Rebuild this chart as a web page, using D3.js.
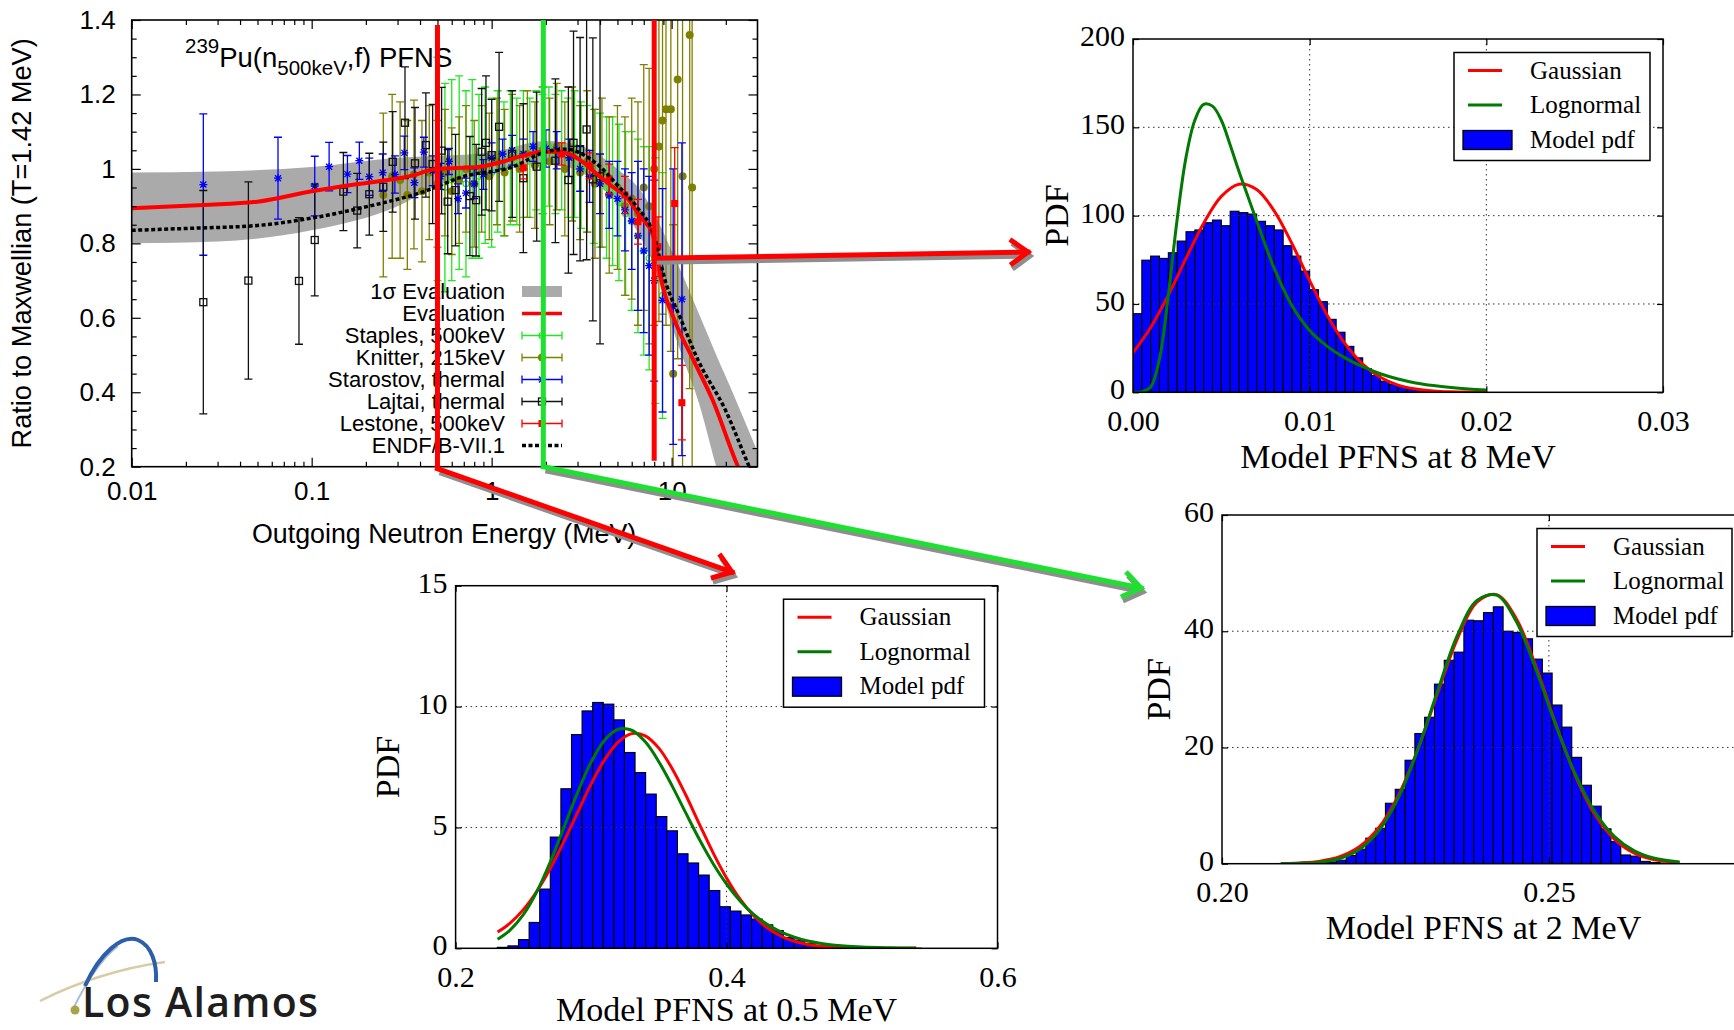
<!DOCTYPE html>
<html>
<head>
<meta charset="utf-8">
<script src="https://cdn.jsdelivr.net/npm/d3@7"></script>
<style>
html,body{margin:0;padding:0;background:#fff;}
svg{display:block;}
</style>
</head>
<body>
<svg id="fig" width="1734" height="1030" xmlns="http://www.w3.org/2000/svg"></svg>
<script>
// ---------------- Ratio-to-Maxwellian panel (energies in MeV) ----------------
const xTickValues = [0.01, 0.1, 1, 10];
const xTickLabels = ["0.01", "0.1", "1", "10"];
const xMinorTicks = [0.02,0.03,0.04,0.05,0.06,0.07,0.08,0.09,0.2,0.3,0.4,0.5,0.6,0.7,0.8,0.9,2,3,4,5,6,7,8,9,20];
const yTickValues = [0.2, 0.4, 0.6, 0.8, 1.0, 1.2, 1.4];
const yTickLabels = ["0.2", "0.4", "0.6", "0.8", "1", "1.2", "1.4"];
const yMinorTicks = [0.25,0.3,0.35,0.45,0.5,0.55,0.65,0.7,0.75,0.85,0.9,0.95,1.05,1.1,1.15,1.25,1.3,1.35];

// 1-sigma evaluation band
const bandE  = [0.01, 0.03, 0.1, 0.3, 0.5, 1, 2, 3, 5, 7, 8, 9, 10, 11.4, 14.2, 17.7, 21.8, 30];
const bandLo = [0.80, 0.805, 0.835, 0.90, 0.955, 0.99, 1.015, 0.995, 0.91, 0.80, 0.74, 0.66, 0.58, 0.50, 0.37, 0.20, 0.05, -0.20];
const bandHi = [0.99, 0.993, 1.005, 1.03, 1.035, 1.045, 1.075, 1.065, 1.00, 0.93, 0.88, 0.83, 0.78, 0.72, 0.61, 0.50, 0.40, 0.24];

// evaluation (red) and ENDF/B-VII.1 (dashed)
const evalE = [0.01,0.025,0.05,0.1,0.166,0.28,0.36,0.48,0.86,1.07,1.43,1.94,2.41,3.1,3.8,4.7,5.6,6.7,7.8,8.3,8.7,10.2,13.2,16.9,23.4,30];
const evalV = [0.894,0.903,0.912,0.94,0.957,0.972,0.982,0.999,1.006,1.015,1.033,1.046,1.046,1.024,0.988,0.952,0.925,0.871,0.827,0.773,0.71,0.603,0.487,0.379,0.2,0.1];
const endfE = [0.01,0.02,0.05,0.1,0.2,0.42,0.69,1.32,2.0,2.6,3.8,5.1,6.4,7.9,9.3,11.1,14.0,19.9,27,30];
const endfV = [0.835,0.84,0.848,0.868,0.898,0.939,0.979,1.006,1.046,1.053,1.015,0.952,0.898,0.827,0.693,0.603,0.487,0.352,0.2,0.15];

// measurements: [energy, ratio, uncertainty]
const staples = [[0.5,1.0,0.3],[0.55,0.95,0.28],[0.6,0.97,0.27],[0.66,0.99,0.26],[0.72,0.96,0.25],[0.78,1.0,0.24],[0.85,0.98,0.22],[0.92,1.01,0.21],[1.0,0.99,0.2],[1.08,1.02,0.19],[1.17,1.0,0.18],[1.27,1.03,0.18],[1.38,1.02,0.17],[1.5,1.04,0.17],[1.63,1.03,0.16],[1.77,1.05,0.16],[1.92,1.04,0.16],[2.08,1.06,0.16],[2.26,1.04,0.16],[2.45,1.05,0.16],[2.66,1.03,0.16],[2.89,1.04,0.17],[3.14,1.01,0.17],[3.4,1.0,0.17],[3.7,0.98,0.18],[4.0,0.97,0.18],[4.35,0.95,0.19],[4.7,0.94,0.2],[5.1,0.91,0.21],[5.55,0.88,0.22],[6.0,0.86,0.24],[6.5,0.82,0.26],[7.0,0.78,0.28],[7.5,0.76,0.3],[8.1,0.70,0.33],[8.9,0.66,0.33]];
const knitter = [[0.25,0.93,0.22],[0.28,0.98,0.22],[0.31,0.97,0.21],[0.34,0.93,0.2],[0.37,0.985,0.2],[0.41,0.94,0.19],[0.45,0.99,0.18],[0.5,0.96,0.17],[0.55,0.99,0.17],[0.6,0.94,0.17],[0.66,0.97,0.17],[0.72,1.0,0.17],[0.8,0.96,0.17],[0.88,1.0,0.17],[0.97,0.98,0.17],[1.07,1.02,0.17],[1.18,0.99,0.17],[1.3,1.03,0.17],[1.43,1.0,0.17],[1.58,1.04,0.17],[1.74,1.01,0.17],[1.92,1.05,0.17],[2.1,1.02,0.17],[2.3,1.06,0.17],[2.55,1.0,0.18],[2.8,1.04,0.18],[3.1,0.99,0.18],[3.4,1.02,0.19],[3.75,0.96,0.2],[4.1,0.99,0.2],[4.5,0.93,0.21],[5.0,0.95,0.22],[5.5,0.9,0.24],[6.0,0.92,0.27],[6.5,0.88,0.3],[7.0,0.95,0.33],[7.5,0.9,0.37],[8.0,1.0,0.42],[8.5,1.06,0.47],[8.9,1.13,0.52],[9.3,1.16,0.58],[9.9,1.16,0.65],[10.2,0.45,0.4],[10.8,1.24,0.75],[11.5,0.98,0.85],[12.6,1.36,0.95],[13.0,0.95,0.95]];
const starostov = [[0.025,0.958,0.19],[0.065,0.975,0.11],[0.104,0.954,0.08],[0.125,1.006,0.065],[0.158,0.986,0.05],[0.184,1.022,0.05],[0.209,0.979,0.05],[0.248,0.99,0.05],[0.29,0.985,0.05],[0.327,1.043,0.045],[0.372,0.963,0.04],[0.42,1.045,0.04],[0.47,0.995,0.04],[0.52,0.98,0.035],[0.58,1.02,0.035],[0.65,0.92,0.04],[0.72,0.935,0.04],[0.8,0.96,0.04],[0.9,0.985,0.04],[1.0,1.03,0.04],[1.15,1.04,0.04],[1.3,1.05,0.04],[1.5,1.04,0.04],[1.7,1.06,0.04],[2.0,1.055,0.05],[2.3,1.05,0.05],[2.7,1.03,0.05],[3.1,1.0,0.06],[3.5,0.98,0.07],[4.0,0.96,0.08],[4.5,0.93,0.09],[5.0,0.92,0.1],[5.5,0.89,0.11],[6.0,0.86,0.13],[6.5,0.82,0.2],[7.0,0.78,0.22],[7.5,0.74,0.24],[8.0,0.70,0.27],[8.9,0.647,0.3],[10.2,0.63,0.37],[11.4,0.65,0.42]];
const lajtai = [[0.025,0.642,0.30],[0.0445,0.70,0.265],[0.085,0.699,0.17],[0.104,0.809,0.15],[0.150,0.939,0.105],[0.179,0.888,0.1],[0.209,0.932,0.11],[0.25,0.952,0.12],[0.282,1.019,0.135],[0.33,1.124,0.15],[0.375,1.015,0.15],[0.431,1.064,0.14],[0.47,1.013,0.16],[0.527,1.049,0.17],[0.57,0.912,0.14],[0.63,0.943,0.15],[0.757,0.927,0.16],[0.82,0.916,0.15],[0.88,1.046,0.17],[0.93,1.07,0.18],[1.0,1.037,0.15],[1.1,1.113,0.2],[1.3,1.04,0.17],[1.5,0.975,0.2],[1.78,1.006,0.2],[2.26,1.022,0.22],[2.67,0.97,0.25],[2.85,1.07,0.3],[3.1,1.053,0.3],[3.37,1.106,0.35],[3.65,0.972,0.38],[4.0,0.98,0.45]];
const lestone = [[1.5,1.003,0.03],[2.45,1.04,0.03],[3.5,1.008,0.035],[4.5,0.973,0.04],[5.5,0.93,0.05],[6.5,0.858,0.06],[8.4,0.791,0.08],[10.4,0.907,0.15],[11.4,0.372,0.1]];

const legendLabels = ["1\u03c3 Evaluation","Evaluation","Staples, 500keV","Knitter, 215keV","Starostov, thermal","Lajtai, thermal","Lestone, 500keV","ENDF/B-VII.1"];

// ---------------- Sampled model PFNS distributions ----------------
// 8 MeV
const pdf8Start = 0, pdf8Width = 0.0005;
const pdf8Counts = [44.5,74.8,77.1,75.8,79.0,85.6,90.9,91.9,96.0,97.5,94.3,102.5,101.7,100.9,96.8,94.3,91.9,83.0,77.1,68.6,58.1,51.3,41.3,34.0,26.0,19.5,13.3,9.5,6.3,4.4,3.0,2.0,1.2,0.7,0.4,0.2];
const gauss8X = [0,0.001,0.002,0.003,0.004,0.005,0.006,0.007,0.008,0.009,0.010,0.011,0.012,0.013,0.014,0.015,0.016,0.017,0.018,0.019,0.020];
const gauss8Y = [22.4,36.7,55.0,75.8,95.7,110.9,117.8,114.8,102.6,84.1,63.2,43.5,27.5,16.0,8.5,4.1,1.9,0.8,0.3,0.1,0.0];
const logn8X = [0,0.0005,0.001,0.0015,0.002,0.0025,0.003,0.0035,0.004,0.0045,0.005,0.0055,0.006,0.0065,0.007,0.008,0.009,0.010,0.011,0.012,0.013,0.014,0.015,0.016,0.017,0.018,0.019,0.020];
const logn8Y = [0,0.3,3,19,55,98,133,154,163,162,154,140,125,111,97,70,49,35,26,19.5,14.5,10.5,7.5,5.3,3.8,2.7,1.9,1.3];

// 0.5 MeV
const pdf05Start = 0.2308, pdf05Width = 0.00782;
const pdf05Counts = [0.04,0.1,0.36,1.07,2.45,4.6,6.6,8.84,9.82,10.17,10.1,9.45,8.1,7.27,6.38,5.45,4.86,3.91,3.53,3.03,2.39,1.72,1.54,1.38,1.21,0.97,0.73,0.44,0.34,0.2,0.1,0.05,0.03,0.02,0.01,0.01,0.005,0.005,0,0.003];
const fit05X = [0.231,0.24,0.25,0.26,0.27,0.28,0.29,0.30,0.31,0.32,0.33,0.34,0.35,0.36,0.37,0.38,0.39,0.40,0.41,0.42,0.43,0.44,0.45,0.46,0.47,0.48,0.50,0.52,0.54];
const gauss05Y = [0.67,1.03,1.60,2.36,3.31,4.42,5.61,6.79,7.80,8.53,8.88,8.79,8.28,7.42,6.33,5.13,3.96,2.91,2.03,1.35,0.85,0.51,0.29,0.16,0.08,0.04,0.01,0.0,0.0];
const logn05Y = [0.37,0.74,1.39,2.35,3.59,5.01,6.44,7.70,8.61,9.06,9.02,8.54,7.72,6.70,5.59,4.50,3.51,2.66,1.96,1.40,0.99,0.68,0.46,0.30,0.20,0.13,0.05,0.02,0.01];

// 2 MeV
const pdf2Start = 0.2085, pdf2Width = 0.0015;
const pdf2Counts = [0.03,0.05,0.08,0.12,0.2,0.3,0.6,1.4,2.5,4.4,6.1,10.4,12.8,17.8,22.4,25.2,30.9,35.0,36.4,41.9,41.8,43.2,44.2,40.0,39.8,38.7,35.2,32.8,27.3,23.5,18.3,13.5,9.9,6.0,3.8,1.5,1.3,0.4,0.2,0.1,0.05];
const fit2X = [0.209,0.212,0.215,0.218,0.221,0.224,0.227,0.230,0.233,0.236,0.239,0.242,0.245,0.248,0.251,0.254,0.257,0.260,0.263,0.266,0.270];
const gauss2Y = [0.04,0.14,0.44,1.20,2.91,6.23,11.8,19.8,29.4,38.7,45.0,46.3,42.2,34.0,24.2,15.3,8.54,4.22,1.84,0.71,0.17];
const logn2Y = [0.02,0.07,0.27,0.89,2.43,5.68,11.4,19.8,29.8,39.3,45.3,46.2,41.7,33.5,24.0,15.5,8.97,4.70,2.24,0.97,0.28];

const fitLegend = ["Gaussian", "Lognormal", "Model pdf"];

// ---------------- drawing ----------------
const svg = d3.select("#fig");
const SANS = "'Liberation Sans', Arial, Helvetica, sans-serif";
const SERIF = "'Liberation Serif', 'Times New Roman', serif";

function styleAxis(a, font, size) {
  a.select(".domain").remove();
  a.attr("font-family", font).attr("font-size", size);
  a.selectAll("line").attr("stroke", "#000").attr("stroke-width", 1.2);
  a.selectAll("text").attr("fill", "#000");
  return a;
}

// ===== main ratio panel =====
const M = {l: 131.7, r: 757.5, t: 20, b: 466.7};
const x = d3.scaleLog().domain([0.01, 30]).range([M.l, M.r]);
const y = d3.scaleLinear().domain([0.2, 1.4]).range([M.b, M.t]);
const main = svg.append("g");
main.append("clipPath").attr("id", "clipMain").append("rect")
  .attr("x", M.l).attr("y", M.t).attr("width", M.r - M.l).attr("height", M.b - M.t);
const plot = main.append("g").attr("clip-path", "url(#clipMain)");

plot.append("path")
  .datum(d3.zip(bandE, bandLo, bandHi))
  .attr("d", d3.area().x(d => x(d[0])).y0(d => y(d[1])).y1(d => y(d[2])).curve(d3.curveMonotoneX))
  .attr("fill", "#aaaaaa");

function drawMarker(g, type, cx, cy, color) {
  if (type === "circleOpen") {
    g.append("circle").attr("cx", cx).attr("cy", cy).attr("r", 3).attr("fill", "none").attr("stroke", color).attr("stroke-width", 1.2);
  } else if (type === "circleFilled") {
    g.append("circle").attr("cx", cx).attr("cy", cy).attr("r", 4).attr("fill", color);
  } else if (type === "star") {
    const s = 4;
    g.append("path").attr("d", `M${cx-s},${cy}H${cx+s}M${cx},${cy-s}V${cy+s}M${cx-s*0.75},${cy-s*0.75}L${cx+s*0.75},${cy+s*0.75}M${cx-s*0.75},${cy+s*0.75}L${cx+s*0.75},${cy-s*0.75}`)
      .attr("stroke", color).attr("stroke-width", 1.3).attr("fill", "none");
  } else if (type === "squareOpen") {
    g.append("rect").attr("x", cx - 3.5).attr("y", cy - 3.5).attr("width", 7).attr("height", 7).attr("fill", "none").attr("stroke", color).attr("stroke-width", 1.3);
  } else if (type === "squareFilled") {
    g.append("rect").attr("x", cx - 3.5).attr("y", cy - 3.5).attr("width", 7).attr("height", 7).attr("fill", color);
  }
}

function errorSeries(data, color, marker) {
  const g = plot.append("g");
  const rows = data.map(([e, v, u]) => ({e, v, u}));
  g.selectAll("path.eb").data(rows).join("path")
    .attr("d", d => {
      const cx = x(d.e), y0 = y(d.v - d.u), y1 = y(d.v + d.u);
      return `M${cx},${y0}V${y1}M${cx-4},${y0}H${cx+4}M${cx-4},${y1}H${cx+4}`;
    })
    .attr("stroke", color).attr("stroke-width", 1.3).attr("fill", "none");
  rows.forEach(d => drawMarker(g, marker, x(d.e), y(d.v), color));
}

const series = [
  {data: staples, color: "#1ee81e", marker: "circleOpen"},
  {data: knitter, color: "#808000", marker: "circleFilled"},
  {data: starostov, color: "#0000ff", marker: "star"},
  {data: lajtai, color: "#111111", marker: "squareOpen"},
  {data: lestone, color: "#ff0000", marker: "squareFilled"}
];
series.forEach(s => errorSeries(s.data, s.color, s.marker));

plot.append("path").datum(d3.zip(evalE, evalV))
  .attr("d", d3.line().x(d => x(d[0])).y(d => y(d[1])).curve(d3.curveMonotoneX))
  .attr("fill", "none").attr("stroke", "#ff0000").attr("stroke-width", 4);
plot.append("path").datum(d3.zip(endfE, endfV))
  .attr("d", d3.line().x(d => x(d[0])).y(d => y(d[1])).curve(d3.curveMonotoneX))
  .attr("fill", "none").attr("stroke", "#000").attr("stroke-width", 3.5).attr("stroke-dasharray", "4,2.5");

// frame and ticks
main.append("rect").attr("x", M.l).attr("y", M.t).attr("width", M.r - M.l).attr("height", M.b - M.t)
  .attr("fill", "none").attr("stroke", "#000").attr("stroke-width", 1.6);
styleAxis(main.append("g").attr("transform", `translate(0,${M.b})`)
  .call(d3.axisBottom(x).tickValues(xTickValues).tickSize(-9).tickPadding(15).tickFormat(d => xTickLabels[xTickValues.indexOf(d)])), SANS, 26);
styleAxis(main.append("g").attr("transform", `translate(0,${M.b})`)
  .call(d3.axisBottom(x).tickValues(xMinorTicks).tickSize(-5).tickFormat("")), SANS, 26);
styleAxis(main.append("g").attr("transform", `translate(0,${M.t})`)
  .call(d3.axisTop(x).tickValues(xTickValues).tickSize(-9).tickFormat("")), SANS, 26);
styleAxis(main.append("g").attr("transform", `translate(0,${M.t})`)
  .call(d3.axisTop(x).tickValues(xMinorTicks).tickSize(-5).tickFormat("")), SANS, 26);
styleAxis(main.append("g").attr("transform", `translate(${M.l},0)`)
  .call(d3.axisLeft(y).tickValues(yTickValues).tickSize(-9).tickPadding(16).tickFormat(d => yTickLabels[yTickValues.indexOf(d)])), SANS, 26);
styleAxis(main.append("g").attr("transform", `translate(${M.l},0)`)
  .call(d3.axisLeft(y).tickValues(yMinorTicks).tickSize(-5).tickFormat("")), SANS, 26);
styleAxis(main.append("g").attr("transform", `translate(${M.r},0)`)
  .call(d3.axisRight(y).tickValues(yTickValues).tickSize(-9).tickFormat("")), SANS, 26);
styleAxis(main.append("g").attr("transform", `translate(${M.r},0)`)
  .call(d3.axisRight(y).tickValues(yMinorTicks).tickSize(-5).tickFormat("")), SANS, 26);

main.append("text").attr("x", (M.l + M.r) / 2 - 0.5).attr("y", 543)
  .attr("text-anchor", "middle").attr("font-family", SANS).attr("font-size", 26.8)
  .text("Outgoing Neutron Energy (MeV)");
main.append("text").attr("transform", `translate(31,${(M.t + M.b) / 2})rotate(-90)`)
  .attr("text-anchor", "middle").attr("font-family", SANS).attr("font-size", 27.2)
  .text("Ratio to Maxwellian (T=1.42 MeV)");

const title = main.append("text").attr("x", 185).attr("y", 67).attr("font-family", SANS).attr("font-size", 27.5);
title.append("tspan").attr("font-size", 20.5).attr("dy", -14).text("239");
title.append("tspan").attr("dy", 14).text("Pu(n");
title.append("tspan").attr("font-size", 20.5).attr("dy", 8).text("500keV");
title.append("tspan").attr("dy", -8).text(",f) PFNS");

// key
const key = main.append("g");
const keyY0 = 291.5, keyDy = 22, keyTextX = 505, keyS0 = 522, keyS1 = 562;
legendLabels.forEach((lab, i) => {
  const ky = keyY0 + i * keyDy;
  key.append("text").attr("x", keyTextX).attr("y", ky).attr("dy", "0.35em")
    .attr("text-anchor", "end").attr("font-family", SANS).attr("font-size", 22).text(lab);
  if (i === 0) {
    key.append("rect").attr("x", keyS0).attr("y", ky - 5.5).attr("width", keyS1 - keyS0).attr("height", 11).attr("fill", "#aaaaaa");
  } else if (i === 1) {
    key.append("line").attr("x1", keyS0).attr("x2", keyS1).attr("y1", ky).attr("y2", ky).attr("stroke", "#ff0000").attr("stroke-width", 3.5);
  } else if (i === 7) {
    key.append("line").attr("x1", keyS0).attr("x2", keyS1).attr("y1", ky).attr("y2", ky).attr("stroke", "#000").attr("stroke-width", 3.5).attr("stroke-dasharray", "4,2.5");
  } else {
    const s = series[i - 2];
    key.append("path").attr("d", `M${keyS0},${ky}H${keyS1}M${keyS0},${ky-4}V${ky+4}M${keyS1},${ky-4}V${ky+4}`)
      .attr("stroke", s.color).attr("stroke-width", 1.3).attr("fill", "none");
    drawMarker(key, s.marker, (keyS0 + keyS1) / 2, ky, s.color);
  }
});

// ===== histogram panels =====
function histPanel(P) {
  const gx = d3.scaleLinear().domain(P.xd).range([P.l, P.r]);
  const gy = d3.scaleLinear().domain(P.yd).range([P.b, P.t]);
  const g = svg.append("g");
  const cid = "clip" + P.id;
  g.append("clipPath").attr("id", cid).append("rect")
    .attr("x", P.l).attr("y", P.t).attr("width", P.r - P.l).attr("height", P.b - P.t);
  const inner = g.append("g").attr("clip-path", `url(#${cid})`);
  const bins = P.counts.map((v, i) => ({x0: P.start + i * P.width, x1: P.start + (i + 1) * P.width, v}));
  inner.selectAll("rect.bar").data(bins).join("rect")
    .attr("x", d => gx(d.x0)).attr("width", d => gx(d.x1) - gx(d.x0))
    .attr("y", d => gy(d.v)).attr("height", d => gy(0) - gy(d.v))
    .attr("fill", "#0000ff").attr("stroke", "#000").attr("stroke-width", 1.1);
  // dotted grid
  inner.selectAll("line.gv").data(P.xt.filter(t => t > P.xd[0] && t < P.xd[1])).join("line")
    .attr("x1", d => gx(d)).attr("x2", d => gx(d)).attr("y1", P.t).attr("y2", P.b)
    .attr("stroke", "#333").attr("stroke-width", 1).attr("stroke-dasharray", "1.5,3.5");
  inner.selectAll("line.gh").data(P.yt.filter(t => t > P.yd[0] && t < P.yd[1])).join("line")
    .attr("x1", P.l).attr("x2", P.r).attr("y1", d => gy(d)).attr("y2", d => gy(d))
    .attr("stroke", "#333").attr("stroke-width", 1).attr("stroke-dasharray", "1.5,3.5");
  const ln = d3.line().x(d => gx(d[0])).y(d => gy(d[1])).curve(d3.curveCatmullRom);
  inner.append("path").datum(d3.zip(P.gX, P.gY)).attr("d", ln)
    .attr("fill", "none").attr("stroke", "#ff0000").attr("stroke-width", 3);
  inner.append("path").datum(d3.zip(P.lX, P.lY)).attr("d", ln)
    .attr("fill", "none").attr("stroke", "#007a00").attr("stroke-width", 3);
  g.append("rect").attr("x", P.l).attr("y", P.t).attr("width", P.r - P.l).attr("height", P.b - P.t)
    .attr("fill", "none").attr("stroke", "#000").attr("stroke-width", 1.5);
  styleAxis(g.append("g").attr("transform", `translate(0,${P.b})`)
    .call(d3.axisBottom(gx).tickValues(P.xt).tickSize(-6).tickPadding(17).tickFormat(d => P.xl[P.xt.indexOf(d)])), SERIF, 30);
  styleAxis(g.append("g").attr("transform", `translate(0,${P.t})`)
    .call(d3.axisTop(gx).tickValues(P.xt).tickSize(-6).tickFormat("")), SERIF, 30);
  const yAx = styleAxis(g.append("g").attr("transform", `translate(${P.l},0)`)
    .call(d3.axisLeft(gy).tickValues(P.yt).tickSize(-6).tickPadding(8).tickFormat(d => P.yl[P.yt.indexOf(d)])), SERIF, 30);
  yAx.selectAll("text").attr("dy", "0.22em");
  styleAxis(g.append("g").attr("transform", `translate(${P.r},0)`)
    .call(d3.axisRight(gy).tickValues(P.yt).tickSize(-6).tickFormat("")), SERIF, 30);
  g.append("text").attr("x", (P.l + P.r) / 2).attr("y", P.labelY).attr("text-anchor", "middle")
    .attr("font-family", SERIF).attr("font-size", 34).text(P.label);
  g.append("text").attr("transform", `translate(${P.pdfX + 12},${(P.t + P.b) / 2})rotate(-90)`)
    .attr("text-anchor", "middle").attr("font-family", SERIF).attr("font-size", 34).text("PDF");
  // legend
  const bw = P.legW, bh = 108, bx = P.r - 13 - bw, by = P.t + 13.5;
  const lg = g.append("g");
  lg.append("rect").attr("x", bx).attr("y", by).attr("width", bw).attr("height", bh)
    .attr("fill", "#fff").attr("stroke", "#000").attr("stroke-width", 1.5);
  const cols = ["#ff0000", "#007a00"];
  fitLegend.forEach((lab, i) => {
    const ry = by + 18 + i * 34.5;
    if (i < 2) {
      lg.append("line").attr("x1", bx + 14).attr("x2", bx + 48).attr("y1", ry).attr("y2", ry)
        .attr("stroke", cols[i]).attr("stroke-width", 3);
    } else {
      lg.append("rect").attr("x", bx + 9).attr("y", ry - 9).attr("width", 49).attr("height", 19)
        .attr("fill", "#0000ff").attr("stroke", "#000").attr("stroke-width", 1.3);
    }
    lg.append("text").attr("x", bx + 76).attr("y", ry).attr("dy", "0.33em")
      .attr("font-family", SERIF).attr("font-size", 25).text(lab);
  });
}

histPanel({id: "A", l: 1133, r: 1663, t: 39, b: 392.3, xd: [0, 0.03], yd: [0, 200],
  xt: [0, 0.01, 0.02, 0.03], xl: ["0.00", "0.01", "0.02", "0.03"],
  yt: [0, 50, 100, 150, 200], yl: ["0", "50", "100", "150", "200"],
  start: pdf8Start, width: pdf8Width, counts: pdf8Counts,
  gX: gauss8X, gY: gauss8Y, lX: logn8X, lY: logn8Y,
  label: "Model PFNS at 8 MeV", labelY: 468, pdfX: 1056, legW: 196});
histPanel({id: "B", l: 455.6, r: 997.5, t: 585.7, b: 948.3, xd: [0.2, 0.6], yd: [0, 15],
  xt: [0.2, 0.4, 0.6], xl: ["0.2", "0.4", "0.6"],
  yt: [0, 5, 10, 15], yl: ["0", "5", "10", "15"],
  start: pdf05Start, width: pdf05Width, counts: pdf05Counts,
  gX: fit05X, gY: gauss05Y, lX: fit05X, lY: logn05Y,
  label: "Model PFNS at 0.5 MeV", labelY: 1021, pdfX: 387, legW: 201});
histPanel({id: "C", l: 1222, r: 1745, t: 515, b: 863.7, xd: [0.2, 0.28], yd: [0, 60],
  xt: [0.2, 0.25], xl: ["0.20", "0.25"],
  yt: [0, 20, 40, 60], yl: ["0", "20", "40", "60"],
  start: pdf2Start, width: pdf2Width, counts: pdf2Counts,
  gX: fit2X, gY: gauss2Y, lX: fit2X, lY: logn2Y,
  label: "Model PFNS at 2 MeV", labelY: 939, pdfX: 1158, legW: 195});

// ===== call-out lines from the ratio panel to the distributions =====
const over = svg.append("g");
function chevronPts(tip, from, len, ang) {
  const a = Math.atan2(tip[1] - from[1], tip[0] - from[0]);
  return [[tip[0] - len * Math.cos(a - ang), tip[1] - len * Math.sin(a - ang)], tip,
          [tip[0] - len * Math.cos(a + ang), tip[1] - len * Math.sin(a + ang)]];
}
function callout(vert, branchFrom, tip, color) {
  const line = d3.line();
  const sh = [2, 4];
  const shadow = p => p.map(q => [q[0] + sh[0], q[1] + sh[1]]);
  const chev = chevronPts(tip, branchFrom, 22, 0.62);
  over.append("path").attr("d", line(shadow([branchFrom, tip]))).attr("stroke", "#8e8e8e").attr("stroke-width", 5).attr("fill", "none");
  over.append("path").attr("d", line(shadow(chev))).attr("stroke", "#8e8e8e").attr("stroke-width", 5).attr("fill", "none");
  over.append("path").attr("d", line(vert)).attr("stroke", color).attr("stroke-width", 5).attr("fill", "none");
  over.append("path").attr("d", line([branchFrom, tip])).attr("stroke", color).attr("stroke-width", 5).attr("fill", "none").attr("stroke-linecap", "square");
  over.append("path").attr("d", line(chev)).attr("stroke", color).attr("stroke-width", 5).attr("fill", "none").attr("stroke-linejoin", "miter");
}
callout([[x(0.5), 25], [x(0.5), M.b + 2]], [x(0.5), M.b + 2], [732, 572], "#ff0000");
callout([[x(2) - 2.5, M.t], [x(2) - 2.5, M.b]], [x(2) - 2.5, M.b], [1141, 588], "#1ee030");
callout([[x(8), M.t], [x(8), M.b - 6]], [x(8), y(0.76)], [1028, 252], "#ff0000");

// ===== logo =====
const logo = svg.append("g");
logo.append("path").attr("d", "M 40 1001 C 75 983, 120 968, 165 962").attr("stroke", "#d9cca4").attr("stroke-width", 2.5).attr("fill", "none");
logo.append("path").attr("d", "M 74 1007 C 86 983, 100 960, 118 946").attr("stroke", "#a9bcd8").attr("stroke-width", 2).attr("fill", "none");
logo.append("path").attr("d", "M 85 986 C 100 953, 122 934, 138 940 C 152 946, 157 964, 156 982").attr("stroke", "#2d5ea8").attr("stroke-width", 4).attr("fill", "none");
logo.append("circle").attr("cx", 75).attr("cy", 1010).attr("r", 4.5).attr("fill", "#a6a448");
logo.append("text").attr("x", 82).attr("y", 1017).attr("font-family", "'Open Sans', sans-serif")
  .attr("font-weight", 600).attr("font-size", 41).attr("letter-spacing", 1.3).attr("fill", "#1e1e1e").text("Los Alamos");
</script>
</body>
</html>
